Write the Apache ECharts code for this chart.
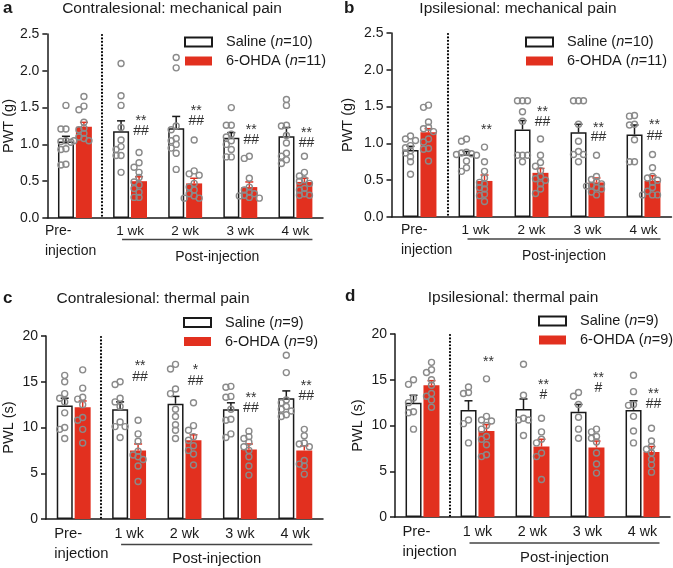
<!DOCTYPE html>
<html>
<head>
<meta charset="utf-8">
<script src="https://cdn.jsdelivr.net/npm/echarts@6/dist/echarts.min.js"></script>
<style>
  html, body { margin: 0; padding: 0; background: #fff; }
  #chart { width: 673px; height: 568px; }
</style>
</head>
<body>
<div id="chart"></div>
<script>
// categories shared by all four panels
const categories = ['Pre-injection', '1 wk', '2 wk', '3 wk', '4 wk'];

// a: contralesional mechanical pain, PWT (g)
const aSalMean = [1.04, 1.18, 1.22, 1.09, 1.11];
const aSalSem = [0.07, 0.14, 0.16, 0.07, 0.12];
const aOhdaMean = [1.24, 0.50, 0.47, 0.42, 0.49];
const aOhdaSem = [0.06, 0.06, 0.07, 0.07, 0.05];
const aSalDots = [
  [1.53, 1.21, 1.21, 1.05, 1.04, 1.03, 0.94, 0.93, 0.73, 0.72],
  [2.10, 1.66, 1.53, 1.23, 1.06, 0.97, 0.93, 0.85, 0.85, 0.62],
  [2.18, 2.04, 1.25, 1.20, 1.08, 1.05, 1.00, 0.95, 0.88, 0.66],
  [1.50, 1.26, 1.26, 1.14, 1.10, 1.05, 1.00, 0.93, 0.83, 0.83],
  [1.61, 1.53, 1.26, 1.25, 1.12, 1.02, 0.88, 0.84, 0.79, 0.74]
];
const aOhdaDots = [
  [1.65, 1.52, 1.47, 1.30, 1.22, 1.20, 1.15, 1.10, 1.08, 1.05, 1.05],
  [0.89, 0.75, 0.69, 0.62, 0.55, 0.49, 0.45, 0.40, 0.35, 0.28, 0.28],
  [1.06, 0.64, 0.60, 0.58, 0.47, 0.42, 0.38, 0.33, 0.30, 0.27, 0.27],
  [0.84, 0.81, 0.54, 0.42, 0.38, 0.35, 0.33, 0.31, 0.30, 0.28, 0.27],
  [0.84, 0.62, 0.57, 0.52, 0.50, 0.47, 0.40, 0.38, 0.33, 0.31, 0.31]
];
const aStars = ['', '**', '**', '**', '**'];
const aStarAt = [null, 1.35, 1.49, 1.24, 1.20];
const aHash = ['', '##', '##', '##', '##'];
const aHashAt = [null, 1.18, 1.32, 1.06, 1.02];

// b: ipsilesional mechanical pain, PWT (g)
const bSalMean = [0.91, 0.85, 1.19, 1.15, 1.12];
const bSalSem = [0.05, 0.04, 0.12, 0.11, 0.13];
const bOhdaMean = [1.15, 0.49, 0.60, 0.47, 0.49];
const bOhdaSem = [0.05, 0.08, 0.06, 0.06, 0.07];
const bSalDots = [
  [1.10, 1.06, 1.04, 0.97, 0.94, 0.90, 0.87, 0.82, 0.75, 0.58],
  [1.06, 1.03, 0.88, 0.87, 0.86, 0.85, 0.84, 0.76, 0.67, 0.62],
  [1.58, 1.58, 1.58, 1.43, 1.30, 0.84, 0.84, 0.84, 0.75],
  [1.58, 1.58, 1.58, 1.26, 1.03, 0.89, 0.85, 0.85, 0.75],
  [1.38, 1.37, 1.26, 1.25, 1.05, 0.75, 0.75]
];
const bOhdaDots = [
  [1.52, 1.49, 1.29, 1.22, 1.20, 1.16, 1.06, 1.02, 0.93, 0.92, 0.76],
  [0.95, 0.75, 0.62, 0.53, 0.47, 0.45, 0.40, 0.38, 0.31, 0.29, 0.21],
  [1.06, 0.84, 0.74, 0.69, 0.63, 0.55, 0.52, 0.50, 0.45, 0.38, 0.32],
  [0.84, 0.55, 0.51, 0.48, 0.45, 0.43, 0.42, 0.40, 0.38, 0.34, 0.30],
  [0.85, 0.67, 0.55, 0.53, 0.50, 0.47, 0.40, 0.35, 0.30, 0.30, 0.30]
];
const bStars = ['', '**', '**', '**', '**'];
const bStarAt = [null, 1.22, 1.47, 1.25, 1.29];
const bHash = ['', '', '##', '##', '##'];
const bHashAt = [null, null, 1.29, 1.09, 1.10];

// c: contralesional thermal pain, PWL (s)
const cSalMean = [12.4, 12.0, 12.6, 12.0, 13.2];
const cSalSem = [0.8, 0.8, 0.8, 0.7, 0.8];
const cOhdaMean = [12.2, 7.5, 8.6, 7.6, 7.5];
const cOhdaSem = [0.7, 0.7, 0.6, 0.6, 0.5];
const cSalDots = [
  [15.7, 15.0, 13.7, 13.2, 12.8, 11.6, 10.0, 9.8, 8.8],
  [15.0, 14.7, 13.2, 12.8, 12.3, 10.6, 10.1, 10.1, 8.9],
  [16.9, 16.4, 14.2, 13.7, 12.0, 11.2, 10.3, 9.7, 8.8],
  [14.5, 14.4, 13.4, 13.3, 12.0, 10.9, 10.8, 9.3, 8.9],
  [17.9, 16.0, 13.0, 12.7, 12.3, 12.0, 11.8, 11.4, 11.2]
];
const cOhdaDots = [
  [16.3, 14.3, 13.3, 13.1, 12.5, 11.1, 10.8, 9.8, 8.3],
  [10.8, 9.3, 8.5, 7.4, 7.0, 6.8, 6.5, 5.8, 4.1],
  [12.7, 10.2, 9.7, 9.0, 8.6, 8.0, 7.5, 7.1, 5.9],
  [9.6, 9.0, 8.8, 8.4, 7.9, 7.5, 6.8, 5.8, 4.8],
  [9.8, 9.1, 8.3, 8.2, 7.9, 6.4, 6.0, 5.8, 4.9]
];
const cStars = ['', '**', '*', '**', '**'];
const cStarAt = [null, 17.0, 16.55, 13.5, 14.9];
const cHash = ['', '##', '##', '##', '##'];
const cHashAt = [null, 15.5, 15.1, 12.1, 13.45];

// d: ipsilesional thermal pain, PWL (s)
const dSalMean = [12.5, 11.7, 11.8, 11.5, 11.7];
const dSalSem = [0.8, 1.0, 1.1, 0.8, 1.0];
const dOhdaMean = [14.4, 9.4, 7.7, 7.6, 7.1];
const dOhdaSem = [0.5, 0.7, 0.8, 0.7, 0.6];
const dSalDots = [
  [15.0, 14.5, 13.0, 12.5, 11.5, 11.4, 9.6],
  [14.2, 13.6, 13.5, 10.6, 10.2, 8.1],
  [16.7, 13.3, 10.8, 10.6, 10.6, 8.9],
  [13.6, 13.2, 12.3, 10.9, 9.6, 8.6],
  [15.5, 13.7, 12.3, 12.2, 11.0, 9.4, 8.1]
];
const dOhdaDots = [
  [16.9, 16.1, 15.8, 15.0, 14.4, 13.5, 13.2, 12.8, 12.0],
  [15.1, 11.0, 10.6, 10.5, 10.0, 9.6, 8.8, 8.5, 7.9, 6.8, 6.6],
  [10.8, 9.3, 8.5, 8.1, 7.0, 6.6, 4.1],
  [9.6, 9.3, 8.8, 8.6, 8.2, 7.0, 5.8, 4.8],
  [9.7, 8.3, 7.7, 7.4, 7.0, 6.3, 5.7, 4.9]
];
const dStars = ['', '**', '**', '**', '**'];
const dStarAt = [null, 17.2, 14.7, 15.5, 13.75];
const dHash = ['', '', '#', '#', '##'];
const dHashAt = [null, null, 13.3, 14.1, 12.3];

const RED = '#e2301f';
const INK = '#1a1a1a';
const DOT = '#8a8a8a';
const FONT = '"Liberation Sans", Arial, Helvetica, sans-serif';
const SIDE = 9; // half distance between the two bars of a group, px

const panels = [
  { letter: 'a', title: 'Contralesional: mechanical pain', yName: 'PWT (g)',
    grid: { left: 45, top: 34, width: 278, height: 184 }, max: 2.5, interval: 0.5, digits: 1,
    titleX: 172, titleY: 1, letterX: 3, letterY: 0, legendX: 184, legendY: 33, nameGap: 30,
    salName: 'Saline (n=10)', ohdaName: '6-OHDA (n=11)', labelMargin: 3, labelSize: 14, prePad: 0,
    bracketGap: 21.5, postGap: 39,
    salMean: aSalMean, salSem: aSalSem, ohdaMean: aOhdaMean, ohdaSem: aOhdaSem,
    salDots: aSalDots, ohdaDots: aOhdaDots, stars: aStars, starAt: aStarAt, hash: aHash, hashAt: aHashAt },
  { letter: 'b', title: 'Ipsilesional: mechanical pain', yName: 'PWT (g)',
    grid: { left: 391.5, top: 33, width: 280, height: 184 }, max: 2.5, interval: 0.5, digits: 1,
    titleX: 518, titleY: 1, letterX: 344, letterY: 0, legendX: 525, legendY: 33, nameGap: 36,
    salName: 'Saline (n=10)', ohdaName: '6-OHDA (n=11)', labelMargin: 3, labelSize: 14, prePad: 23,
    bracketGap: 22, postGap: 39.5,
    salMean: bSalMean, salSem: bSalSem, ohdaMean: bOhdaMean, ohdaSem: bOhdaSem,
    salDots: bSalDots, ohdaDots: bOhdaDots, stars: bStars, starAt: bStarAt, hash: bHash, hashAt: bHashAt },
  { letter: 'c', title: 'Contralesional: thermal pain', yName: 'PWL (s)',
    grid: { left: 45, top: 336, width: 278, height: 183 }, max: 20, interval: 5, digits: 0,
    titleX: 153, titleY: 291, letterX: 3, letterY: 290, legendX: 183, legendY: 313.5, nameGap: 30,
    salName: 'Saline (n=9)', ohdaName: '6-OHDA (n=9)', labelMargin: 5, labelSize: 14.8, prePad: 21,
    bracketGap: 25.5, postGap: 40,
    salMean: cSalMean, salSem: cSalSem, ohdaMean: cOhdaMean, ohdaSem: cOhdaSem,
    salDots: cSalDots, ohdaDots: cOhdaDots, stars: cStars, starAt: cStarAt, hash: cHash, hashAt: cHashAt },
  { letter: 'd', title: 'Ipsilesional: thermal pain', yName: 'PWL (s)',
    grid: { left: 395, top: 334, width: 275, height: 183 }, max: 20, interval: 5, digits: 0,
    titleX: 513, titleY: 290, letterX: 345, letterY: 288, legendX: 538, legendY: 312, nameGap: 30,
    salName: 'Saline (n=9)', ohdaName: '6-OHDA (n=9)', labelMargin: 5, labelSize: 14.8, prePad: 20,
    bracketGap: 26, postGap: 40.5,
    salMean: dSalMean, salSem: dSalSem, ohdaMean: dOhdaMean, ohdaSem: dOhdaSem,
    salDots: dSalDots, ohdaDots: dOhdaDots, stars: dStars, starAt: dStarAt, hash: dHash, hashAt: dHashAt }
];

// simple beeswarm: horizontal offsets (px) so that circles do not pile up
function swarm(vals, pxPerUnit) {
  const steps = [0, -5, 5, -10, 10, -15, 15];
  const placed = [];
  return vals.map(function (v) {
    const y = v * pxPerUnit;
    let o = steps.find(function (s) {
      return placed.every(function (q) { return (q[0] - s) * (q[0] - s) + (q[1] - y) * (q[1] - y) >= 25; });
    });
    if (o === undefined) o = 0;
    placed.push([o, y]);
    return o;
  });
}

const option = {
  animation: false,
  backgroundColor: '#fff',
  textStyle: { fontFamily: FONT, color: INK },
  title: [], legend: [], grid: [], xAxis: [], yAxis: [], series: []
};

panels.forEach(function (p, i) {
  const ppu = p.grid.height / p.max;

  option.title.push({
    text: p.letter, left: p.letterX, top: p.letterY, padding: 0,
    textStyle: { fontSize: 17, fontWeight: 'bold', color: INK, fontFamily: FONT }
  });
  option.title.push({
    text: p.title, left: p.titleX, top: p.titleY, padding: 0, textAlign: 'center',
    textStyle: { fontSize: 15.5, fontWeight: 'normal', color: INK, fontFamily: FONT }
  });

  option.legend.push({
    data: [p.salName, p.ohdaName], left: p.legendX, top: p.legendY, orient: 'vertical',
    padding: 0, itemGap: 1, itemWidth: 27, itemHeight: 9, icon: 'rect',
    selectedMode: false,
    formatter: function (name) { return '{g| }' + name.replace('(n=', '({i|n}='); },
    textStyle: {
      fontSize: 14.5, color: INK, fontFamily: FONT, lineHeight: 18,
      rich: { g: { width: 9 }, i: { fontStyle: 'italic', fontSize: 14.5, fontFamily: FONT } }
    }
  });

  option.grid.push(Object.assign({ containLabel: false }, p.grid));

  option.xAxis.push({
    type: 'category', gridIndex: i, data: categories,
    axisLine: { lineStyle: { color: INK, width: 1.5 } },
    axisTick: { show: false },
    axisLabel: {
      interval: 0, margin: p.labelMargin, fontSize: p.labelSize - 0.5, color: INK, lineHeight: 20,
      formatter: function (v, k) { return k === 0 ? '{p|Pre-}\n{p|injection}' : v; },
      rich: { p: { width: 60, align: 'left', padding: [0, 0, 0, p.prePad],
        fontSize: p.labelSize, lineHeight: 20, color: INK } }
    }
  });

  option.yAxis.push({
    type: 'value', gridIndex: i, min: 0, max: p.max, interval: p.interval,
    name: p.yName, nameLocation: 'middle', nameGap: p.nameGap,
    nameTextStyle: { fontSize: 14.5, color: INK },
    axisLine: { show: true, lineStyle: { color: INK, width: 1.5 } },
    axisTick: { show: true, length: 5, lineStyle: { color: INK, width: 1.5 } },
    axisLabel: { fontSize: 14, color: INK, margin: 8,
      formatter: function (v) { return v.toFixed(p.digits); } },
    splitLine: { show: false }
  });

  option.series.push({
    type: 'bar', name: p.salName, xAxisIndex: i, yAxisIndex: i, data: p.salMean,
    barWidth: 16, barGap: '12%', z: 2,
    itemStyle: { color: '#fff', borderColor: INK, borderWidth: 1.5 }
  });
  option.series.push({
    type: 'bar', name: p.ohdaName, xAxisIndex: i, yAxisIndex: i, data: p.ohdaMean,
    barWidth: 16, barGap: '12%', z: 2,
    itemStyle: { color: RED }
  });

  // SEM error bars (upper half only)
  const errData = p.salMean.map(function (m, k) { return [k, m, p.salSem[k], 0]; })
    .concat(p.ohdaMean.map(function (m, k) { return [k, m, p.ohdaSem[k], 1]; }));
  option.series.push({
    type: 'custom', xAxisIndex: i, yAxisIndex: i, data: errData, z: 3, silent: true,
    renderItem: function (params, api) {
      const base = api.coord([api.value(0), api.value(1)]);
      const top = api.coord([api.value(0), api.value(1) + api.value(2)]);
      const x = base[0] + (api.value(3) ? SIDE : -SIDE);
      const col = api.value(3) ? RED : INK;
      return { type: 'group', children: [
        { type: 'line', shape: { x1: x, y1: base[1], x2: x, y2: top[1] }, style: { stroke: col, lineWidth: 1.5 } },
        { type: 'line', shape: { x1: x - 4, y1: top[1], x2: x + 4, y2: top[1] }, style: { stroke: col, lineWidth: 1.5 } }
      ] };
    }
  });

  // individual animals
  const dotData = [];
  [p.salDots, p.ohdaDots].forEach(function (groups, side) {
    groups.forEach(function (vals, k) {
      const offs = swarm(vals, ppu);
      vals.forEach(function (v, j) { dotData.push([k, v, offs[j], side]); });
    });
  });
  option.series.push({
    type: 'custom', xAxisIndex: i, yAxisIndex: i, data: dotData, z: 4, silent: true,
    renderItem: function (params, api) {
      const c = api.coord([api.value(0), api.value(1)]);
      const x = c[0] + (api.value(3) ? SIDE : -SIDE) + api.value(2);
      return { type: 'circle', shape: { cx: x, cy: c[1], r: 3 },
        style: { fill: 'none', stroke: DOT, lineWidth: 1.4 } };
    }
  });

  // significance marks
  const markText = [];
  const markData = [];
  [[p.stars, p.starAt], [p.hash, p.hashAt]].forEach(function (pair) {
    pair[0].forEach(function (t, k) {
      if (t) { markText.push(t); markData.push([k, pair[1][k]]); }
    });
  });
  option.series.push({
    type: 'custom', xAxisIndex: i, yAxisIndex: i, data: markData, z: 5, silent: true,
    renderItem: function (params, api) {
      const c = api.coord([api.value(0), api.value(1)]);
      const t = markText[params.dataIndex];
      const star = t.charAt(0) === '*';
      return { type: 'text', x: c[0] + SIDE + 2, y: c[1] + (star ? 3 : 0),
        style: { text: t, fill: '#333', fontSize: 14, fontFamily: FONT,
          align: 'center', verticalAlign: 'middle' } };
    }
  });

  // dotted divider, post-injection bracket and its label
  option.series.push({
    type: 'custom', xAxisIndex: i, yAxisIndex: i, data: [[0, 0]], z: 6, silent: true,
    renderItem: function (params, api) {
      const c0 = api.coord([0, 0]);
      const c1 = api.coord([1, 0]);
      const c4 = api.coord([4, 0]);
      const top = api.coord([0, p.max]);
      const xd = Math.round((c0[0] + c1[0]) / 2);
      const y0 = c0[1];
      const x1 = c1[0] - 8;
      const x2 = c4[0] + 17;
      return { type: 'group', children: [
        { type: 'line', shape: { x1: xd, y1: top[1] + 1, x2: xd, y2: y0 },
          style: { stroke: '#000', lineWidth: 2.2, lineCap: 'round', lineDash: [0.01, 3.4] } },
        { type: 'line', shape: { x1: x1, y1: y0 + p.bracketGap, x2: x2, y2: y0 + p.bracketGap },
          style: { stroke: '#444', lineWidth: 1.3 } },
        { type: 'text', x: (x1 + x2) / 2, y: y0 + p.postGap,
          style: { text: 'Post-injection', fill: INK, fontSize: p.labelSize, fontFamily: FONT,
            align: 'center', verticalAlign: 'middle' } }
      ] };
    }
  });
});

const chart = echarts.init(document.getElementById('chart'), null, { renderer: 'canvas' });
chart.setOption(option);
</script>
</body>
</html>
